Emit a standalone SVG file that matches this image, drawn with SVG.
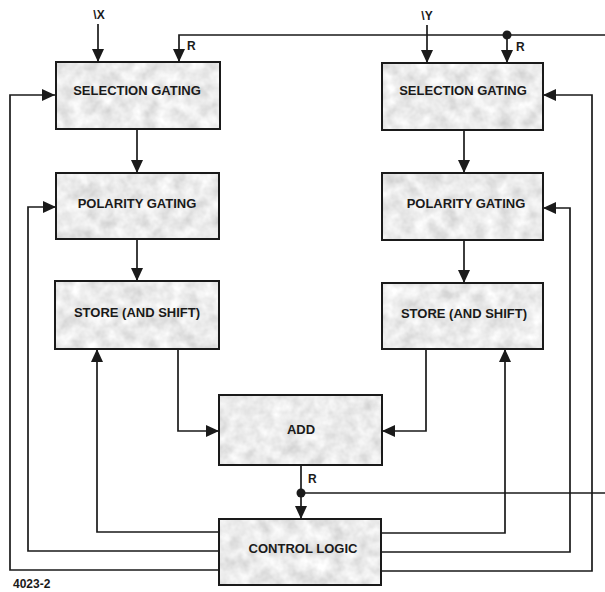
<svg xmlns="http://www.w3.org/2000/svg" width="605" height="592" viewBox="0 0 605 592">
  <style>
    .box { fill: #d4d4d4; }
    .frame { fill: none; stroke: #1a1a1a; stroke-width: 2; }
    .lbl { font-family: "Liberation Sans", Arial, sans-serif; font-weight: bold; font-size: 13px; fill: #1a1a1a; text-anchor: middle; }
    .tag { font-family: "Liberation Sans", Arial, sans-serif; font-weight: bold; font-size: 12px; fill: #1a1a1a; }
    .wire { fill: none; stroke: #1a1a1a; stroke-width: 1.7; }
    .arrow { marker-end: url(#head); }
  </style>
  <defs>
    <marker id="head" markerUnits="userSpaceOnUse" markerWidth="13" markerHeight="13" viewBox="0 0 13 13" refX="13" refY="6.5" orient="auto">
      <path d="M0,0.5 L13,6.5 L0,12.5 Z" fill="#1a1a1a"/>
    </marker>
    <!-- mottled grey fill for the block faces -->
    <filter id="mottle" x="0" y="0" width="100%" height="100%">
      <feTurbulence type="fractalNoise" baseFrequency="0.07" numOctaves="3" seed="7" result="n"/>
      <feColorMatrix in="n" type="matrix" values="0.5 0 0 0 0.58  0.5 0 0 0 0.58  0.5 0 0 0 0.58  0 0 0 0 1" result="g"/>
      <feComposite in="g" in2="SourceGraphic" operator="in"/>
    </filter>
  </defs>

  <rect width="605" height="592" fill="#ffffff"/>

  <!-- connectors -->
  <g id="connectors">
    <!-- inputs -->
    <path class="wire arrow" d="M98,24 V62"/>
    <path class="wire arrow" d="M427,25 V63"/>
    <!-- R feedback bus along the top -->
    <path class="wire arrow" d="M605,35 H179 V62"/>
    <path class="wire arrow" d="M507,35 V63"/>
    <circle cx="507" cy="35" r="4.5" fill="#1a1a1a"/>
    <!-- left column chain -->
    <path class="wire arrow" d="M137,129 V173"/>
    <path class="wire arrow" d="M137,239 V281"/>
    <!-- right column chain -->
    <path class="wire arrow" d="M464,130 V173"/>
    <path class="wire arrow" d="M464,240 V283"/>
    <!-- stores into ADD -->
    <path class="wire arrow" d="M178,349 V431 H219"/>
    <path class="wire arrow" d="M426,349 V431 H382"/>
    <!-- ADD result R -->
    <path class="wire arrow" d="M301,465 V519"/>
    <path class="wire" d="M301,493 H605"/>
    <circle cx="301" cy="493" r="4.5" fill="#1a1a1a"/>
    <!-- control lines, left side -->
    <path class="wire arrow" d="M219,532 H97 V349"/>
    <path class="wire arrow" d="M219,551 H28 V207 H56"/>
    <path class="wire arrow" d="M219,570 H10 V95 H55"/>
    <!-- control lines, right side -->
    <path class="wire arrow" d="M381,533 H505 V349"/>
    <path class="wire arrow" d="M381,552 H570 V208 H543"/>
    <path class="wire arrow" d="M381,571 H592 V95 H543"/>
  </g>

  <!-- connector labels -->
  <g id="labels">
    <text class="tag" x="99" y="19" text-anchor="middle">\X</text>
    <text class="tag" x="427" y="20" text-anchor="middle">\Y</text>
    <text class="tag" x="187" y="50">R</text>
    <text class="tag" x="516" y="51">R</text>
    <text class="tag" x="308" y="483">R</text>
    <text class="tag" x="13" y="588" font-size="9.5px">4023-2</text>
  </g>

  <g id="sel-x">
    <rect class="box" x="56" y="62" width="164" height="67" filter="url(#mottle)"/>
    <rect class="frame" x="56" y="62" width="164" height="67"/>
    <text class="lbl" x="137" y="95">SELECTION GATING</text>
  </g>
  <g id="pol-x">
    <rect class="box" x="56" y="173" width="163" height="66" filter="url(#mottle)"/>
    <rect class="frame" x="56" y="173" width="163" height="66"/>
    <text class="lbl" x="137" y="208">POLARITY GATING</text>
  </g>
  <g id="store-x">
    <rect class="box" x="55" y="281" width="164" height="68" filter="url(#mottle)"/>
    <rect class="frame" x="55" y="281" width="164" height="68"/>
    <text class="lbl" x="137" y="317">STORE (AND SHIFT)</text>
  </g>

  <g id="sel-y">
    <rect class="box" x="382" y="63" width="161" height="67" filter="url(#mottle)"/>
    <rect class="frame" x="382" y="63" width="161" height="67"/>
    <text class="lbl" x="463" y="95">SELECTION GATING</text>
  </g>
  <g id="pol-y">
    <rect class="box" x="382" y="173" width="161" height="67" filter="url(#mottle)"/>
    <rect class="frame" x="382" y="173" width="161" height="67"/>
    <text class="lbl" x="466" y="208">POLARITY GATING</text>
  </g>
  <g id="store-y">
    <rect class="box" x="382" y="283" width="161" height="66" filter="url(#mottle)"/>
    <rect class="frame" x="382" y="283" width="161" height="66"/>
    <text class="lbl" x="464" y="318">STORE (AND SHIFT)</text>
  </g>

  <g id="add">
    <rect class="box" x="219" y="395" width="163" height="70" filter="url(#mottle)"/>
    <rect class="frame" x="219" y="395" width="163" height="70"/>
    <text class="lbl" x="301" y="434">ADD</text>
  </g>

  <g id="control">
    <rect class="box" x="219" y="519" width="162" height="66" filter="url(#mottle)"/>
    <rect class="frame" x="219" y="519" width="162" height="66"/>
    <text class="lbl" x="303" y="553">CONTROL LOGIC</text>
  </g>
</svg>
